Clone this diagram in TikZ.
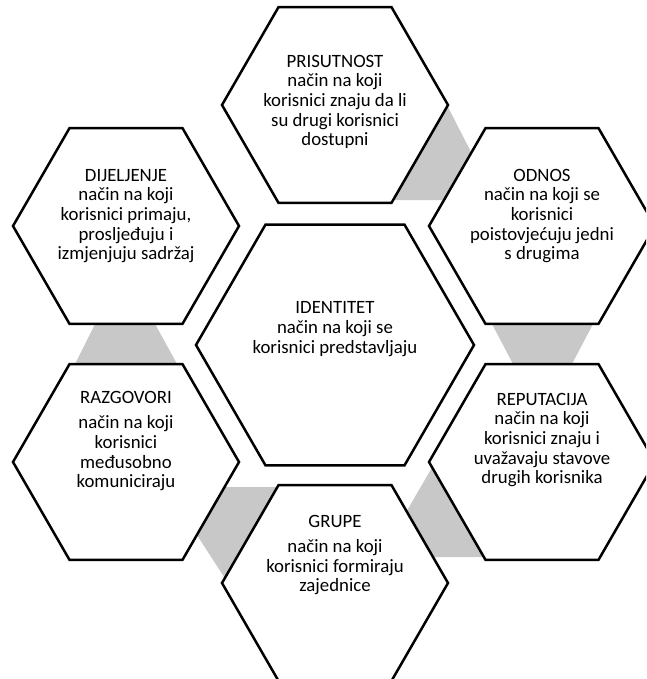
\documentclass[tikz,border=0pt]{standalone}
\usepackage{fontspec}
\setmainfont{Carlito}
\usetikzlibrary{shapes.geometric}
\definecolor{conngray}{RGB}{200,200,200}
\begin{document}
\begin{tikzpicture}[x=1pt,y=-1pt,
  hexo/.style={regular polygon, regular polygon sides=6, minimum size=226pt,
    inner sep=0pt, outer sep=0pt, draw=black, line width=2.5pt, fill=white},
  hexc/.style={hexo, minimum size=278pt},
  lbl/.style={align=center, font=\fontsize{18.8}{19.7}\selectfont, inner sep=0pt, text=black},
  band/.style={fill=conngray, draw=none}]
\clip (0,0) rectangle (646,679);
% gray links between neighbouring hexagons
\fill[band] (446,103) -- (474,158) -- (450,200) -- (385,200) -- cycle;
\fill[band] (490.4,321) -- (594.6,321) -- (570.4,367) -- (514.6,367) -- cycle;
\fill[band] (434,464) -- (405,514) -- (425,557) -- (490,557) -- cycle;
\fill[band] (220,487) -- (285,487) -- (226,580) -- (195,532) -- cycle;
\fill[band] (96.5,321) -- (153.4,321) -- (178.7,367) -- (73.5,367) -- cycle;
% hexagons
\node[hexc] (ident) at (335,345) {};
\node[hexo] (pris) at (335,105) {};
\node[hexo] (dij) at (126,226) {};
\node[hexo] (odn) at (542,226) {};
\node[hexo] (razg) at (126,462) {};
\node[hexo] (rep) at (542,462) {};
\node[hexo] (grup) at (335,583) {};
% texts
\node[lbl] (tident) at (335,329) {IDENTITET\\način na koji se\\korisnici predstavljaju};
\node[lbl] (tpris) at (335,102) {PRISUTNOST\\način na koji\\korisnici znaju da li\\su drugi korisnici\\dostupni};
\node[lbl] (tdij) at (126,216) {DIJELJENJE\\način na koji\\korisnici primaju,\\prosljeđuju i\\izmjenjuju sadržaj};
\node[lbl] (todn) at (542,216) {ODNOS\\način na koji se\\korisnici\\poistovjećuju jedni\\s drugima};
\node[lbl] (trazg) at (126,441) {RAZGOVORI\\[6pt]način na koji\\korisnici\\međusobno\\komuniciraju};
\node[lbl] (trep) at (542,440) {REPUTACIJA\\način na koji\\korisnici znaju i\\uvažavaju stavove\\drugih korisnika};
\node[lbl] (tgrup) at (335,555) {GRUPE\\[5.5pt]način na koji\\korisnici formiraju\\zajednice};
\end{tikzpicture}
\end{document}
